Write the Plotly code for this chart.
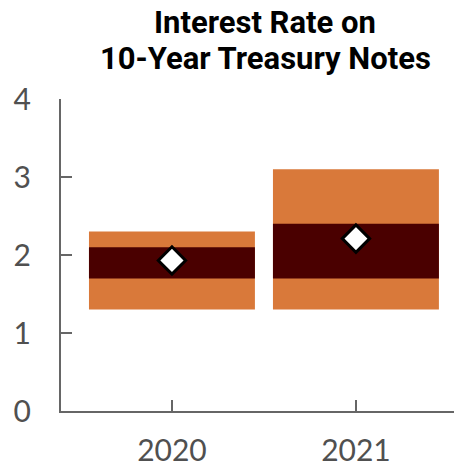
import plotly.graph_objects as go

# Forecast ranges for the 10-year Treasury note rate (percent)
years = ["2020", "2021"]
outer_low = [1.3, 1.3]
outer_high = [2.3, 3.1]
inner_low = [1.7, 1.7]
inner_high = [2.1, 2.4]
median = [1.93, 2.21]

y_ticks = [0, 1, 2, 3, 4]
title_lines = ["Interest Rate on", "10-Year Treasury Notes"]

ORANGE = "#D9793A"
DARK = "#4A0000"
AXIS = "#666666"
TEXT = "#505050"

W, H = 454, 469
PLOT_TOP, PLOT_BOTTOM, PLOT_LEFT = 99, 411, 61

fig = go.Figure()

fig.add_trace(go.Bar(
    x=years,
    y=[h - l for h, l in zip(outer_high, outer_low)],
    base=outer_low,
    marker=dict(color=ORANGE, line=dict(width=0)),
    hoverinfo="skip",
))
fig.add_trace(go.Bar(
    x=years,
    y=[h - l for h, l in zip(inner_high, inner_low)],
    base=inner_low,
    marker=dict(color=DARK, line=dict(width=0)),
    hoverinfo="skip",
))
fig.add_trace(go.Scatter(
    x=years,
    y=median,
    mode="markers",
    marker=dict(symbol="diamond", size=21, color="white",
                line=dict(color="black", width=3)),
    hoverinfo="skip",
))


def px_to_paper_y(py):
    return (PLOT_BOTTOM - py) / (PLOT_BOTTOM - PLOT_TOP)


# two-line bold title, each line placed on its own
for line, center_y in zip(title_lines, [22, 58]):
    fig.add_annotation(
        text=f"<b>{line}</b>",
        xref="paper", yref="paper",
        x=(265 - PLOT_LEFT) / (W - PLOT_LEFT), xanchor="center",
        y=px_to_paper_y(center_y), yanchor="middle",
        showarrow=False,
        font=dict(family="Roboto", size=31, color="black"),
    )

fig.update_layout(
    width=W,
    height=H,
    margin=dict(l=PLOT_LEFT, r=0, t=PLOT_TOP, b=H - PLOT_BOTTOM, autoexpand=False),
    paper_bgcolor="white",
    plot_bgcolor="white",
    barmode="overlay",
    bargap=0.098,
    showlegend=False,
    xaxis=dict(
        type="category",
        range=[-0.603, 1.533],
        automargin=False,
        showline=True, linecolor=AXIS, linewidth=2,
        ticks="inside", ticklen=11, tickwidth=2, tickcolor=AXIS,
        showgrid=False, zeroline=False,
        tickfont=dict(family="Lato", size=30, color=TEXT),
        ticklabelstandoff=12,
    ),
    yaxis=dict(
        range=[0, 4],
        tickvals=y_ticks,
        automargin=False,
        showline=True, linecolor=AXIS, linewidth=2,
        ticks="inside", ticklen=11, tickwidth=2, tickcolor=AXIS,
        showgrid=False, zeroline=False,
        tickfont=dict(family="Lato", size=30, color=TEXT),
        ticklabelstandoff=22,
    ),
)

fig.write_html("out.html")
